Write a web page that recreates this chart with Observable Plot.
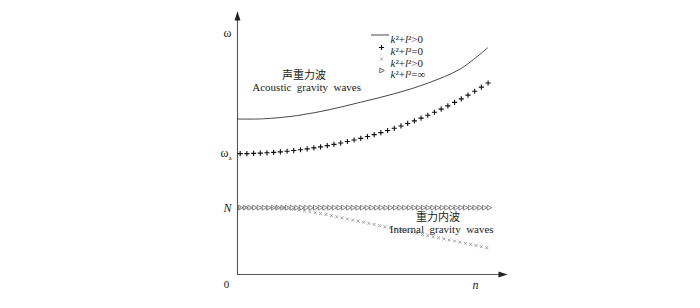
<!DOCTYPE html>
<html>
<head>
<meta charset="utf-8">
<script src="https://cdn.jsdelivr.net/npm/d3@7"></script>
<script src="https://cdn.jsdelivr.net/npm/@observablehq/plot@0.6"></script>
<style>
  html, body { margin: 0; padding: 0; background: #fff; }
  #chart { width: 700px; height: 308px; }
</style>
</head>
<body>
<div id="chart"></div>
<script>
// ---- data (n and ω in arbitrary units) ----
// solid line: k²+l²>0 (acoustic branch)
const solidN = [0, 0.97, 2.24, 3.47, 4.59, 5.82, 7.09, 8.32, 9.33];
const solidW = [2.374, 2.377, 2.427, 2.52, 2.63, 2.756, 2.92, 3.14, 3.46];

// "+" markers: k²+l²=0
const plusN = [0.10,0.35,0.60,0.85,1.10,1.35,1.60,1.85,2.10,2.35,2.60,2.85,3.10,3.35,3.60,3.85,4.10,4.35,4.60,4.85,5.10,5.35,5.60,5.85,6.10,6.35,6.60,6.85,7.10,7.35,7.60,7.85,8.10,8.35,8.60,8.85,9.10,9.35];
const plusW = [1.845,1.846,1.849,1.853,1.858,1.864,1.872,1.882,1.892,1.904,1.918,1.933,1.949,1.967,1.986,2.007,2.030,2.054,2.079,2.106,2.135,2.166,2.198,2.232,2.268,2.306,2.346,2.388,2.431,2.477,2.525,2.575,2.628,2.682,2.739,2.798,2.860,2.924];

// "×" markers: k²+l²>0 (internal branch)
const crossN = [0.1,0.3,0.5,0.7,0.9,1.1,1.3,1.5,1.7,1.9,2.1,2.3,2.5,2.7,2.9,3.1,3.3,3.5,3.7,3.9,4.1,4.3,4.5,4.7,4.9,5.1,5.3,5.5,5.7,5.9,6.1,6.3,6.5,6.7,6.9,7.1,7.3,7.5,7.7,7.9,8.1,8.3,8.5,8.7,8.9,9.1,9.3];
const crossW = [1.02,1.02,1.02,1.02,1.02,1.02,1.02,1.02,1.014,1.006,0.995,0.986,0.971,0.960,0.944,0.931,0.916,0.898,0.881,0.864,0.847,0.830,0.814,0.797,0.780,0.763,0.746,0.729,0.712,0.695,0.679,0.662,0.645,0.628,0.611,0.594,0.577,0.560,0.544,0.527,0.510,0.493,0.476,0.459,0.442,0.425,0.408];

// "▷" markers: k²+l²=∞ (ω = N)
const triN = [0.10,0.28,0.45,0.63,0.80,0.98,1.15,1.33,1.50,1.68,1.85,2.03,2.20,2.38,2.55,2.73,2.90,3.08,3.25,3.43,3.60,3.78,3.95,4.13,4.30,4.48,4.65,4.83,5.00,5.18,5.35,5.53,5.70,5.88,6.05,6.23,6.40,6.58,6.75,6.93,7.10,7.28,7.45,7.63,7.80,7.98,8.15,8.33,8.50,8.68,8.85,9.03,9.20,9.38];
const triW = 1.02;

// axis labels (left side)
const yLabelText = ["ω", "ω_a", "*N*"];
const yLabelVal  = [3.68, 1.845, 1.02];
const xLabelText = ["*n*"];
const xLabelVal  = [8.88];
const originLabel = ["0"];

// annotations
const annoText = ["声重力波", "Acoustic  gravity  waves", "重力内波", "Internal  gravity  waves"];
const annoN    = [2.48, 2.58, 7.48, 7.62];
const annoW    = [3.04, 2.85, 0.875, 0.68];

// legend
const legendLabels = ["*k*²+*l*²>0", "*k*²+*l*²=0", "*k*²+*l*²>0", "*k*²+*l*²=∞"];

// ---- build tables ----
const solid = solidN.map((n, i) => ({n, w: solidW[i]}));
const plus  = plusN.map((n, i) => ({n, w: plusW[i]}));
const cross = crossN.map((n, i) => ({n, w: crossW[i]}));
const tri   = triN.map(n => ({n, w: triW}));

const FONT = "'Liberation Serif', 'Times New Roman', 'Noto Sans CJK SC', serif";

// custom symbols
const triRight = { draw(ctx, size) { const r = Math.sqrt(size / Math.PI) * 1.1;
  ctx.moveTo(r, 0); ctx.lineTo(-r * 0.6, -r * 0.85); ctx.lineTo(-r * 0.6, r * 0.85); ctx.closePath(); } };
const arrowRight = { draw(ctx) { ctx.moveTo(2, 0); ctx.lineTo(-7, -3); ctx.lineTo(-7, 3); ctx.closePath(); } };
const arrowUp = { draw(ctx) { ctx.moveTo(0, -1); ctx.lineTo(-3, 8); ctx.lineTo(3, 8); ctx.closePath(); } };

const X0 = 0, X1 = 10, Y0 = 0, Y1 = 4;
const legendRowY = [23, 35, 46.5, 58];   // offsets from top of frame

const legendMarks = [];
legendLabels.forEach((lab, i) => {
  legendMarks.push(Plot.text([lab], {frameAnchor: "top-left", dx: 153, dy: legendRowY[i], text: d => d,
    textAnchor: "start", fontSize: 11, fill: "#222", className: "rich"}));
});
legendMarks.push(Plot.dot([0], {frameAnchor: "top-left", dx: 144, dy: legendRowY[1], symbol: "plus", r: 1.8, stroke: "#111", strokeWidth: 1.1}));
legendMarks.push(Plot.dot([0], {frameAnchor: "top-left", dx: 144, dy: legendRowY[2], symbol: "times", r: 1.5, stroke: "#999", strokeWidth: 0.9}));
legendMarks.push(Plot.dot([0], {frameAnchor: "top-left", dx: 144, dy: legendRowY[3], symbol: triRight, r: 2.6, stroke: "#444", strokeWidth: 0.8, fill: "none"}));

const chart = Plot.plot({
  width: 700,
  height: 308,
  marginLeft: 237,
  marginRight: 195,
  marginTop: 12,
  marginBottom: 34,
  x: {domain: [X0, X1], axis: null},
  y: {domain: [Y0, Y1], axis: null},
  style: {fontFamily: FONT, background: "#fff"},
  marks: [
    // axes
    Plot.ruleY([Y0], {stroke: "#555", strokeWidth: 1.1}),
    Plot.ruleX([X0], {stroke: "#555", strokeWidth: 1.1}),
    Plot.dot([X1], {x: d => d, y: () => Y0, symbol: arrowRight, fill: "#222", stroke: "none"}),
    Plot.dot([Y1], {x: () => X0, y: d => d, symbol: arrowUp, fill: "#222", stroke: "none"}),
    // data
    Plot.line(solid, {x: "n", y: "w", curve: "catmull-rom", stroke: "#333", strokeWidth: 0.9}),
    Plot.dot(tri, {x: "n", y: "w", symbol: triRight, r: 2.6, stroke: "#555", strokeWidth: 0.7, fill: "none"}),
    Plot.dot(cross, {x: "n", y: "w", symbol: "times", r: 1.5, stroke: "#999", strokeWidth: 0.9}),
    Plot.dot(plus, {x: "n", y: "w", symbol: "plus", r: 1.8, stroke: "#111", strokeWidth: 1.1}),
    // axis labels
    Plot.text(yLabelText, {x: () => X0, y: (d, i) => yLabelVal[i], text: d => d, dx: -6, textAnchor: "end", fontSize: 12, fill: "#222", className: "rich"}),
    Plot.text(xLabelText, {x: (d, i) => xLabelVal[i], y: () => Y0, text: d => d, dy: 11, fontSize: 12, fill: "#222", className: "rich"}),
    Plot.text(originLabel, {x: () => X0, y: () => Y0, text: d => d, dx: -11, dy: 10, fontSize: 11, fill: "#222"}),
    // annotations
    Plot.text(annoText, {x: (d, i) => annoN[i], y: (d, i) => annoW[i], text: d => d, fontSize: 11, fill: "#222", className: "anno"}),
    ...legendMarks
  ]
});

document.getElementById("chart").appendChild(chart);

// rich text: *x* italic, _a subscript
function fmt(s) {
  let out = "";
  let i = 0;
  while (i < s.length) {
    const c = s[i];
    if (c === "*") {
      const j = s.indexOf("*", i + 1);
      out += `<tspan font-style="italic">${s.slice(i + 1, j)}</tspan>`;
      i = j + 1;
    } else if (c === "_") {
      out += `<tspan dy="3" font-size="7">${s[i + 1]}</tspan>`;
      i += 2;
    } else {
      out += c;
      i += 1;
    }
  }
  return out;
}
const root = d3.select(chart);
root.selectAll("text").each(function () {
  const t = this.textContent;
  if (t.includes("*") || t.includes("_")) this.innerHTML = fmt(t);
  if (t.includes("  ")) { this.setAttribute("xml:space", "preserve"); this.style.whiteSpace = "pre"; }
});

// legend line sample (first row)
root.append("line")
  .attr("x1", 237 + 134).attr("x2", 237 + 152)
  .attr("y1", 12 + legendRowY[0]).attr("y2", 12 + legendRowY[0])
  .attr("stroke", "#333").attr("stroke-width", 0.9);
</script>
</body>
</html>
